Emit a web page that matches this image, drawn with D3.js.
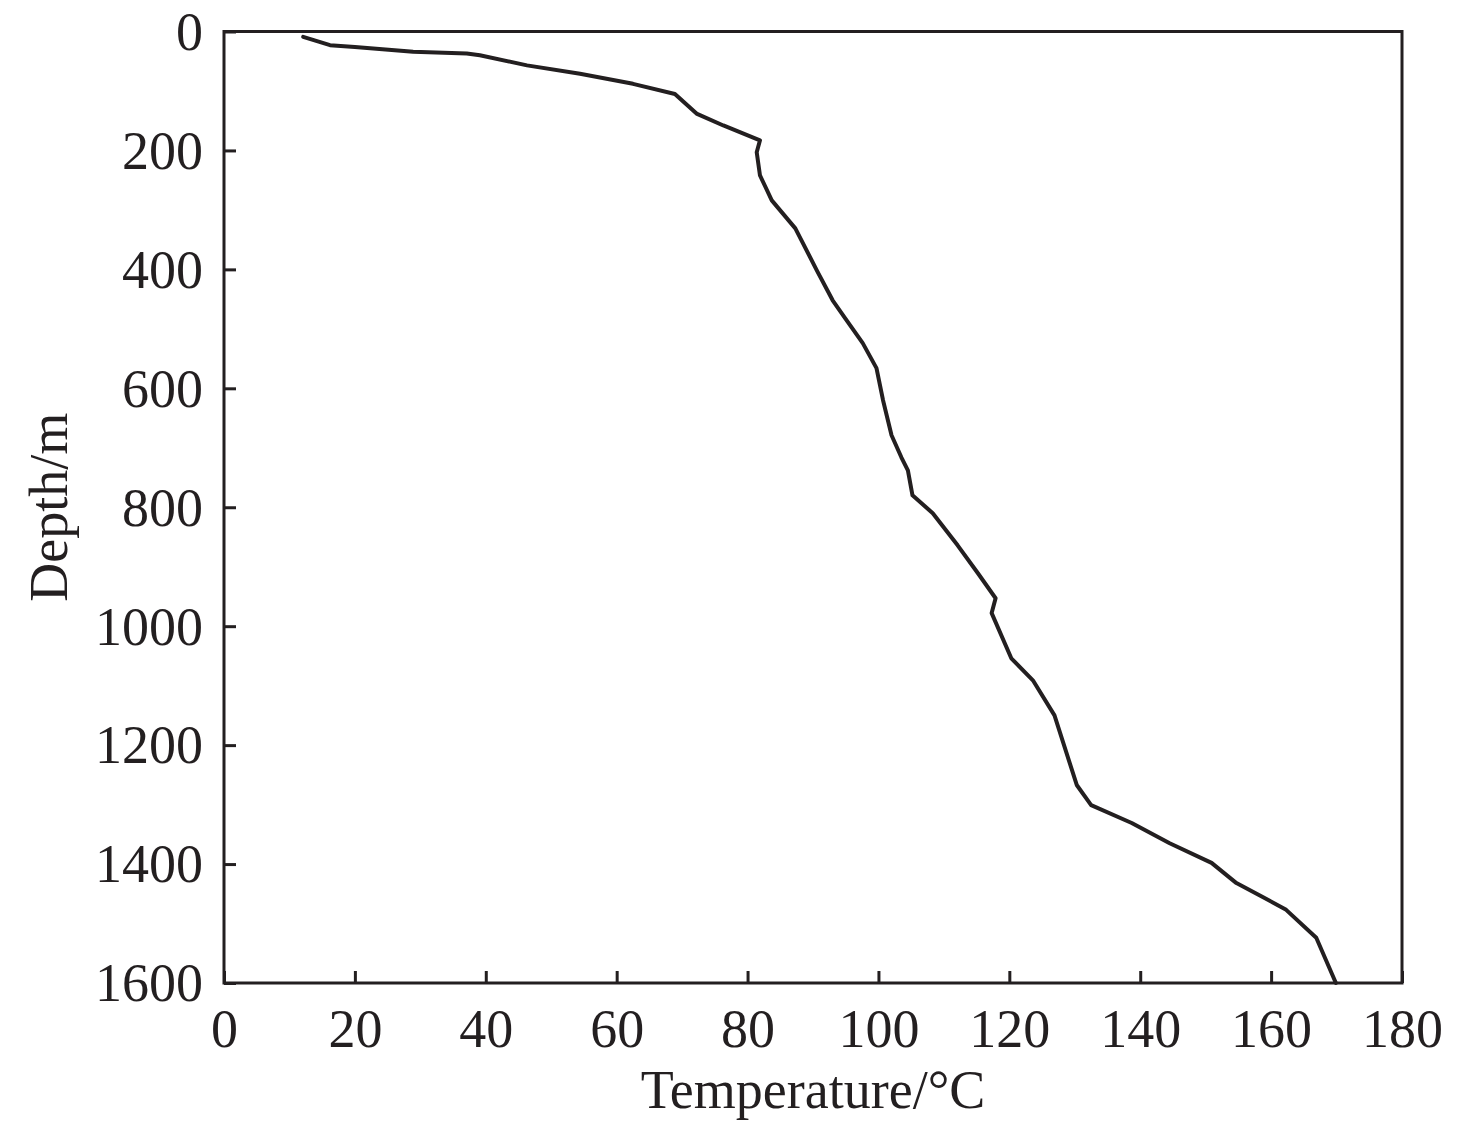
<!DOCTYPE html>
<html>
<head>
<meta charset="utf-8">
<script src="https://cdn.jsdelivr.net/npm/d3@7"></script>
<style>
  body { margin: 0; background: white; }
  text { font-family: "Liberation Serif", "DejaVu Serif", serif; fill: #231f20; }
</style>
</head>
<body>
<div id="container"></div>
<script>
// temperature log
let temperature = [12.1, 16.2, 20, 28.9, 37.1, 39.1, 46.3, 54.4, 62.5, 68.9, 72.2, 76.3, 81.9, 81.4,
  81.9, 83.7, 87.3, 90.6, 93.0, 94.9, 97.6, 99.7, 100.7, 102.0, 103.5, 104.5, 105.2, 108.3, 112.1,
  115.2, 117.9, 117.3, 120.3, 123.6, 126.9, 130.3, 132.5, 138.7, 144.5, 150.9, 154.7, 159.0, 162.3,
  166.9, 169.9];
let depth = [9, 23, 26, 34, 37, 40, 57, 71, 88, 105, 138, 158, 183, 203,
  242, 284, 331, 402, 452, 482, 524, 566, 620, 679, 716, 738, 780, 810, 864,
  911, 953, 978, 1054, 1091, 1150, 1267, 1301, 1331, 1365, 1398, 1432, 1457, 1477,
  1524, 1600];
let xTicks = [0, 20, 40, 60, 80, 100, 120, 140, 160, 180];
let yTicks = [0, 200, 400, 600, 800, 1000, 1200, 1400, 1600];

let w = 1476;
let h = 1126;
let plotLeft = 224, plotRight = 1402, plotTop = 31.5, plotBottom = 983;
let ink = "#231f20";

let svg = d3.select("#container")
  .append("svg")
  .attr("width", w)
  .attr("height", h);

let xScale = d3.scaleLinear().domain([0, 180]).range([plotLeft, plotRight]);
let yScale = d3.scaleLinear().domain([0, 1600]).range([plotTop, plotBottom]);

// axes, ticks pointing inward
let xAxis = d3.axisBottom(xScale).tickValues(xTicks).tickSize(-12).tickPadding(26).tickFormat(d3.format("d"));
let yAxis = d3.axisLeft(yScale).tickValues(yTicks).tickSize(-12).tickPadding(21).tickFormat(d3.format("d"));

let xg = svg.append("g").attr("transform", "translate(0," + plotBottom + ")").call(xAxis);
let yg = svg.append("g").attr("transform", "translate(" + plotLeft + ",0)").call(yAxis);

[xg, yg].forEach(g => {
  g.select(".domain").remove();
  g.selectAll(".tick line").attr("stroke", ink).attr("stroke-width", 3);
  g.selectAll(".tick text").style("font-size", "54px").attr("fill", ink);
});
yg.selectAll(".tick text").attr("dy", "0.33em");

// frame
svg.append("rect")
  .attr("x", plotLeft)
  .attr("y", plotTop)
  .attr("width", plotRight - plotLeft)
  .attr("height", plotBottom - plotTop)
  .attr("fill", "none")
  .attr("stroke", ink)
  .attr("stroke-width", 3);

// profile
let points = temperature.map((t, i) => [t, depth[i]]);
let line = d3.line().x(d => xScale(d[0])).y(d => yScale(d[1]));
svg.append("path")
  .datum(points)
  .attr("d", line)
  .attr("fill", "none")
  .attr("stroke", ink)
  .attr("stroke-width", 4)
  .attr("stroke-linejoin", "round")
  .attr("stroke-linecap", "round");

// axis titles
svg.append("text")
  .attr("x", (plotLeft + plotRight) / 2)
  .attr("y", 1108)
  .attr("text-anchor", "middle")
  .style("font-size", "54px")
  .text("Temperature/°C");

svg.append("text")
  .attr("transform", "translate(67," + ((plotTop + plotBottom) / 2) + ") rotate(-90)")
  .attr("text-anchor", "middle")
  .style("font-size", "54px")
  .text("Depth/m");
</script>
</body>
</html>
